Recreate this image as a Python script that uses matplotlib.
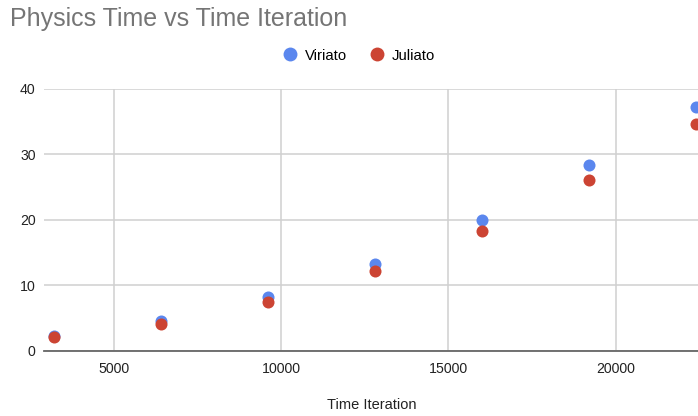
import matplotlib.pyplot as plt
from matplotlib.lines import Line2D

#### DATA ##########
iterations = [3200, 6400, 9600, 12800, 16000, 19200, 22400]
viriato = [2.3, 4.6, 8.2, 13.3, 20.0, 28.35, 37.2]
juliato = [2.05, 4.1, 7.5, 12.2, 18.35, 26.1, 34.7]
series_names = ['Viriato', 'Juliato']
title = 'Physics Time vs Time Iteration'
xlabel = 'Time Iteration'

blue = '#5b87ee'
red = '#cc4433'
grid_col = '#d0d0d0'

plt.rcParams['font.family'] = ['Liberation Sans', 'DejaVu Sans']

fig = plt.figure(figsize=(6.98, 4.16), dpi=100)
ax = fig.add_axes([44/698, 1 - 350.7/416, 1 - 44/698 + 0.002, (350.7 - 89)/416])

ax.scatter(iterations, viriato, s=75, color=blue, zorder=3, clip_on=True, linewidths=0)
ax.scatter(iterations, juliato, s=75, color=red, zorder=4, clip_on=True, linewidths=0)

ax.set_xlim(2915, 22500)
ax.set_ylim(0, 40)
ax.set_xticks([5000, 10000, 15000, 20000])
ax.set_yticks([0, 10, 20, 30, 40])
ax.grid(True, color=grid_col, linewidth=1.1, zorder=0)
ax.set_axisbelow(True)
for s in ['top', 'right', 'left']:
    ax.spines[s].set_visible(False)
ax.spines['bottom'].set_color('#666666')
ax.spines['bottom'].set_linewidth(1.3)
ax.spines['bottom'].set_zorder(5)
ax.tick_params(length=0, labelsize=10.2, colors='#222222')
ax.tick_params(axis='x', pad=8)
ax.tick_params(axis='y', pad=6)

fig.text(10/698, 1 - 19/416, title, fontsize=18, color='#757575', va='center', ha='left')
fig.text(372/698, 1 - 405/416, xlabel, fontsize=10.5, color='#222222', ha='center', va='center')

handles = [Line2D([], [], marker='o', linestyle='', markersize=10, color=c, markeredgewidth=0)
           for c in [blue, red]]
fig.legend(handles, series_names, loc='center', bbox_to_anchor=(358/698, 1 - 55.7/416),
           ncol=2, frameon=False, fontsize=10.7, handletextpad=0.4, columnspacing=1.4,
           handlelength=1.2)

fig.savefig('out.png', dpi=100)
